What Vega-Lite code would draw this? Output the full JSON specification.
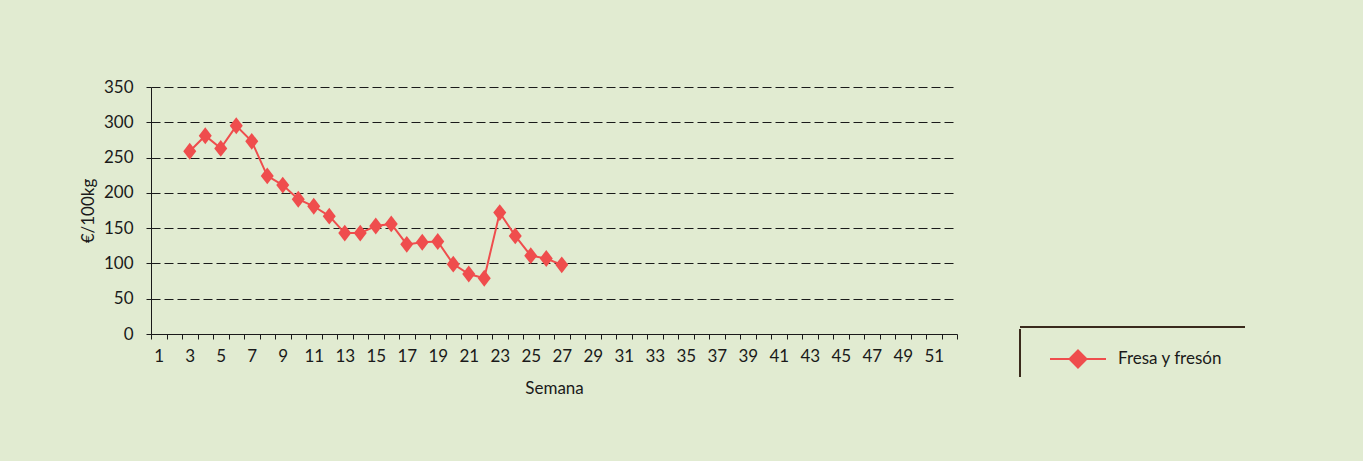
{
  "$schema": "https://vega.github.io/schema/vega-lite/v6.json",
  "width": 806,
  "height": 247,
  "autosize": {"type": "none"},
  "padding": {"left": 151, "top": 87, "right": 406, "bottom": 127},
  "background": "#E1EBD1",
  "config": {"view": {"stroke": null}, "font": "Lato"},
  "data": {
    "values": [
      {"semana": 3, "precio": 259, "serie": "Fresa y fresón"},
      {"semana": 4, "precio": 281, "serie": "Fresa y fresón"},
      {"semana": 5, "precio": 263, "serie": "Fresa y fresón"},
      {"semana": 6, "precio": 295, "serie": "Fresa y fresón"},
      {"semana": 7, "precio": 273, "serie": "Fresa y fresón"},
      {"semana": 8, "precio": 224, "serie": "Fresa y fresón"},
      {"semana": 9, "precio": 211, "serie": "Fresa y fresón"},
      {"semana": 10, "precio": 191, "serie": "Fresa y fresón"},
      {"semana": 11, "precio": 181, "serie": "Fresa y fresón"},
      {"semana": 12, "precio": 167, "serie": "Fresa y fresón"},
      {"semana": 13, "precio": 143, "serie": "Fresa y fresón"},
      {"semana": 14, "precio": 143, "serie": "Fresa y fresón"},
      {"semana": 15, "precio": 153, "serie": "Fresa y fresón"},
      {"semana": 16, "precio": 156, "serie": "Fresa y fresón"},
      {"semana": 17, "precio": 127, "serie": "Fresa y fresón"},
      {"semana": 18, "precio": 130, "serie": "Fresa y fresón"},
      {"semana": 19, "precio": 131, "serie": "Fresa y fresón"},
      {"semana": 20, "precio": 99, "serie": "Fresa y fresón"},
      {"semana": 21, "precio": 85, "serie": "Fresa y fresón"},
      {"semana": 22, "precio": 79, "serie": "Fresa y fresón"},
      {"semana": 23, "precio": 172, "serie": "Fresa y fresón"},
      {"semana": 24, "precio": 139, "serie": "Fresa y fresón"},
      {"semana": 25, "precio": 111, "serie": "Fresa y fresón"},
      {"semana": 26, "precio": 107, "serie": "Fresa y fresón"},
      {"semana": 27, "precio": 98, "serie": "Fresa y fresón"}
    ]
  },
  "encoding": {
    "x": {
      "field": "semana",
      "type": "ordinal",
      "bandPosition": 0.5,
      "title": "Semana",
      "scale": {
        "type": "band",
        "domain": [1,2,3,4,5,6,7,8,9,10,11,12,13,14,15,16,17,18,19,20,21,22,23,24,25,26,27,28,29,30,31,32,33,34,35,36,37,38,39,40,41,42,43,44,45,46,47,48,49,50,51,52],
        "paddingInner": 0,
        "paddingOuter": 0
      },
      "axis": {
        "labelAngle": 0,
        "labelExpr": "datum.value % 2 === 1 ? datum.label : ''",
        "labelOverlap": false,
        "labelFont": "Lato",
        "labelFontSize": 17,
        "labelColor": "#1a1a1a",
        "labelPadding": 9,
        "tickBand": "extent",
        "tickSize": 5,
        "tickColor": "#1a1a1a",
        "domainColor": "#1a1a1a",
        "grid": false,
        "titleFont": "Lato",
        "titleFontSize": 17,
        "titleFontWeight": "normal",
        "titleColor": "#1a1a1a",
        "titlePadding": 16
      }
    },
    "y": {
      "field": "precio",
      "type": "quantitative",
      "title": "€/100kg",
      "scale": {"domain": [0, 350], "nice": false},
      "axis": {
        "values": [0, 50, 100, 150, 200, 250, 300, 350],
        "labelFont": "Lato",
        "labelFontSize": 17,
        "labelColor": "#1a1a1a",
        "labelPadding": 13,
        "tickSize": 5,
        "tickColor": "#1a1a1a",
        "domainColor": "#1a1a1a",
        "grid": true,
        "gridColor": "#1a1a1a",
        "gridDash": [9, 4],
        "gridWidth": 1.2,
        "titleFont": "Lato",
        "titleFontSize": 17,
        "titleFontWeight": "normal",
        "titleColor": "#1a1a1a",
        "titlePadding": 6
      }
    },
    "color": {
      "field": "serie",
      "type": "nominal",
      "scale": {"range": ["#EF4D4D"]},
      "legend": {
        "title": null,
        "orient": "none",
        "legendX": 869,
        "legendY": 240,
        "padding": 21,
        "symbolType": "M-2.8,0L2.8,0M0,-0.85L0.85,0L0,0.85L-0.85,0Z",
        "symbolSize": 400,
        "symbolStrokeWidth": 2,
        "symbolFillColor": "#EF4D4D",
        "symbolStrokeColor": "#EF4D4D",
        "symbolOffset": 26,
        "labelOffset": 29,
        "labelFont": "Lato",
        "labelFontSize": 17,
        "labelColor": "#1a1a1a",
        "strokeColor": "#3a2a1c",
        "encode": {
          "legend": {
            "update": {
              "strokeDash": {"value": [225, 305, 48]},
              "strokeWidth": {"value": 2}
            }
          }
        }
      }
    }
  },
  "layer": [
    {"mark": {"type": "line", "strokeWidth": 2}},
    {"mark": {"type": "point", "shape": "M0,-1.3L1,0L0,1.3L-1,0Z", "filled": true, "size": 169, "opacity": 1}}
  ]
}
